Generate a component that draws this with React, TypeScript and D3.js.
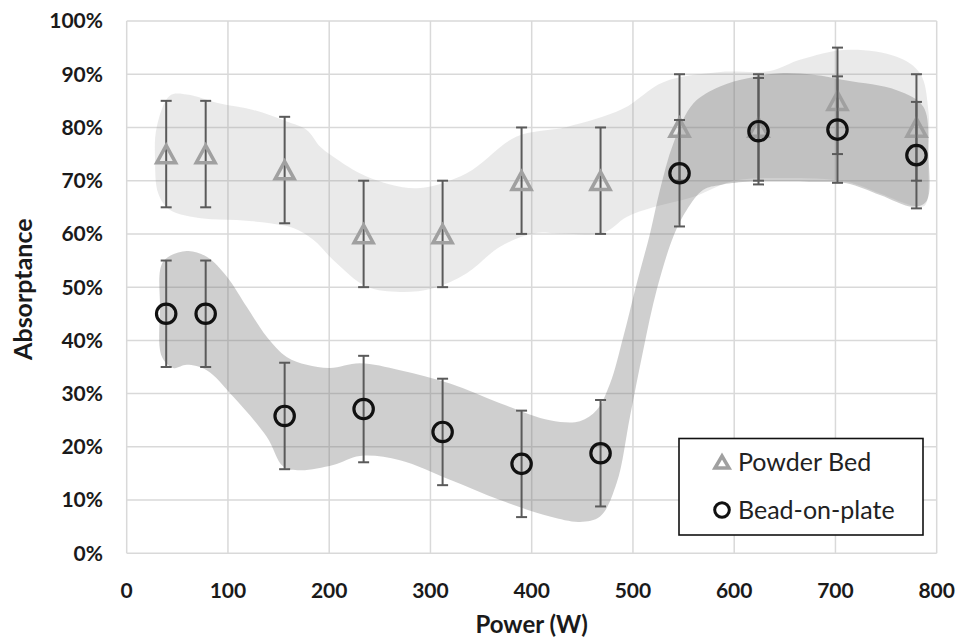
import React from "react";
import * as d3 from "d3";

// ---- data ----
const powers = [39, 78, 156, 234, 312, 390, 468, 546, 624, 702, 780];
const powderBed = [75, 75, 72, 60, 60, 70, 70, 80, 80, 85, 80];
const beadOnPlate = [45, 45, 25.8, 27.1, 22.8, 16.8, 18.8, 71.4, 79.3, 79.6, 74.8];
const errorPlus = 10;

const xTicks = [0, 100, 200, 300, 400, 500, 600, 700, 800];
const yTicks = [0, 10, 20, 30, 40, 50, 60, 70, 80, 90, 100];

// band outlines [power, absorptance %]
const powderBand: [number, number][] = [
  [29.6, 80], [42.8, 86], [59.3, 86.2], [92.1, 84.5], [125, 83.3], [158, 81.1],
  [177.8, 79.5], [190.9, 76.4], [204, 74.5], [237, 70.8], [286.7, 68.6],
  [335.8, 71.4], [385.2, 78.3], [434.6, 80.1], [490, 83.5], [530, 88.5],
  [586, 90.4], [635.3, 90.6], [665, 92.7], [711.1, 94.6], [760.5, 93.3],
  [783.5, 90.2], [791.7, 83.3], [791.7, 73.9], [788.5, 65.4],
  [776.9, 65.3], [744, 67.6], [711, 69.8], [650, 70.5], [600, 70], [560, 67],
  [520, 65], [493.8, 63.2], [470.6, 60.2], [428, 60.1], [401.6, 60.1],
  [368.7, 57.6], [335.8, 52.6], [302.8, 49.8], [269.9, 49.1], [237, 50.1],
  [204, 55.1], [184.3, 58.9], [164.5, 61.1], [141.5, 62], [108.6, 62.6],
  [75.7, 62.9], [42.8, 64.5], [31.2, 67.6], [28, 73.9],
];

const beadBand: [number, number][] = [
  [32.9, 46], [36.1, 54.8], [59.3, 56.8], [79, 55.7], [98.8, 52], [118.5, 46.3],
  [138.3, 40.7], [158, 36.9], [177.8, 35.4], [200.8, 34.8], [230.4, 35.7],
  [269.9, 34.4], [319.3, 31.9], [368.7, 28.2], [418, 25], [447.6, 24.8],
  [464.2, 26.9], [477.4, 31.9], [490.5, 40.7], [503.7, 50.7], [516.9, 60.1],
  [526.7, 68.3], [539.9, 77], [559.6, 84.5], [586, 87.7], [612.3, 89.2],
  [645.2, 90.2], [678.1, 89.9], [711.1, 88.8], [760.5, 87], [786.8, 83.9],
  [791.7, 75], [790, 66.2], [776.9, 65.1], [744, 67.3], [711.1, 69.5],
  [678.1, 69.8], [612.3, 69.8], [586, 69.2], [569.5, 68.3], [553.1, 64.5],
  [539.9, 59.5], [523.5, 49.5], [510.2, 38.2], [497.1, 25.7], [483.9, 13.2],
  [467.5, 6.9], [447.7, 5.9], [418, 6.9], [368.7, 10], [319.3, 13.8],
  [269.9, 17.5], [230.4, 18.3], [204, 16.6], [171.2, 15.6], [154.7, 16.3],
  [138.3, 21.9], [105.3, 29.4], [79, 34.4], [59.3, 35.4], [46, 34.8], [34.6, 37],
];

const legendLabels = ["Powder Bed", "Bead-on-plate"];

export default function App() {
  const W = 961, H = 642;
  const x = d3.scaleLinear().domain([0, 800]).range([126.7, 936.7]);
  const y = d3.scaleLinear().domain([0, 100]).range([553.3, 21]);

  const outline = d3
    .line<[number, number]>()
    .x((d) => x(d[0]))
    .y((d) => y(d[1]))
    .curve(d3.curveCatmullRomClosed.alpha(0.5));

  const font = "Lato, 'Open Sans', sans-serif";
  const gridColor = "#d9d9d9";
  const errColor = "#5a5a5a";
  const triColor = "#a0a0a0";

  const tri = (cx: number, cy: number, w: number, h: number) =>
    `M${cx - w / 2},${cy + h / 2}L${cx},${cy - h / 2}L${cx + w / 2},${cy + h / 2}Z`;

  const errBar = (p: number, v: number, key: string) => (
    <g key={key} stroke={errColor} strokeWidth={2}>
      <line x1={x(p)} x2={x(p)} y1={y(v - errorPlus)} y2={y(v + errorPlus)} />
      <line x1={x(p) - 5.5} x2={x(p) + 5.5} y1={y(v - errorPlus)} y2={y(v - errorPlus)} />
      <line x1={x(p) - 5.5} x2={x(p) + 5.5} y1={y(v + errorPlus)} y2={y(v + errorPlus)} />
    </g>
  );

  return (
    <svg
      width={W}
      height={H}
      style={{ position: "absolute", left: 0, top: 0, background: "#fff" }}
    >
      <rect width={W} height={H} fill="#fff" />
      {/* grid */}
      <g stroke={gridColor} strokeWidth={1.5}>
        {xTicks.map((t) => (
          <line key={"gx" + t} x1={x(t)} x2={x(t)} y1={y(100)} y2={y(0)} />
        ))}
        {yTicks.map((t) => (
          <line key={"gy" + t} x1={x(0)} x2={x(800)} y1={y(t)} y2={y(t)} />
        ))}
      </g>
      {/* bands */}
      <path d={outline(powderBand) || ""} fill="rgb(150,150,150)" fillOpacity={0.2} />
      <path d={outline(beadBand) || ""} fill="rgb(110,110,110)" fillOpacity={0.33} />

      {/* axis labels */}
      <g fontFamily={font} fontWeight={700} fontSize={21} fill="#1a1a1a">
        {yTicks.map((t) => (
          <text key={"yl" + t} x={103} y={y(t)} dy="0.35em" textAnchor="end">
            {t + "%"}
          </text>
        ))}
        {xTicks.map((t) => (
          <text key={"xl" + t} x={x(t)} y={598} textAnchor="middle">
            {t}
          </text>
        ))}
        <text x={x(400)} y={633} textAnchor="middle" fontSize={24}>
          Power (W)
        </text>
        <text
          transform={`translate(32,${y(50) + 2}) rotate(-90)`}
          textAnchor="middle"
          fontSize={25}
        >
          Absorptance
        </text>
      </g>

      {/* powder bed series */}
      {powers.map((p, i) => errBar(p, powderBed[i], "pe" + i))}
      {powers.map((p, i) => (
        <path
          key={"pt" + i}
          d={tri(x(p), y(powderBed[i]), 19, 17.5)}
          fill="none"
          stroke={triColor}
          strokeWidth={3.5}
          strokeLinejoin="miter"
        />
      ))}
      {/* bead-on-plate series */}
      {powers.map((p, i) => errBar(p, beadOnPlate[i], "be" + i))}
      {powers.map((p, i) => (
        <circle
          key={"bc" + i}
          cx={x(p)}
          cy={y(beadOnPlate[i])}
          r={9.7}
          fill="none"
          stroke="#111"
          strokeWidth={3.2}
        />
      ))}

      {/* legend */}
      <g>
        <rect x={679} y={438.5} width={244} height={96.5} fill="#fff" stroke="#111" strokeWidth={1.6} />
        <path d={tri(722, 462, 14, 12)} fill="none" stroke={triColor} strokeWidth={3.5} />
        <circle cx={722} cy={510} r={7.3} fill="none" stroke="#111" strokeWidth={3} />
        <g fontFamily={font} fontSize={25} fill="#222">
          <text x={738} y={462} dy="0.35em">{legendLabels[0]}</text>
          <text x={738} y={510} dy="0.35em">{legendLabels[1]}</text>
        </g>
      </g>
    </svg>
  );
}
